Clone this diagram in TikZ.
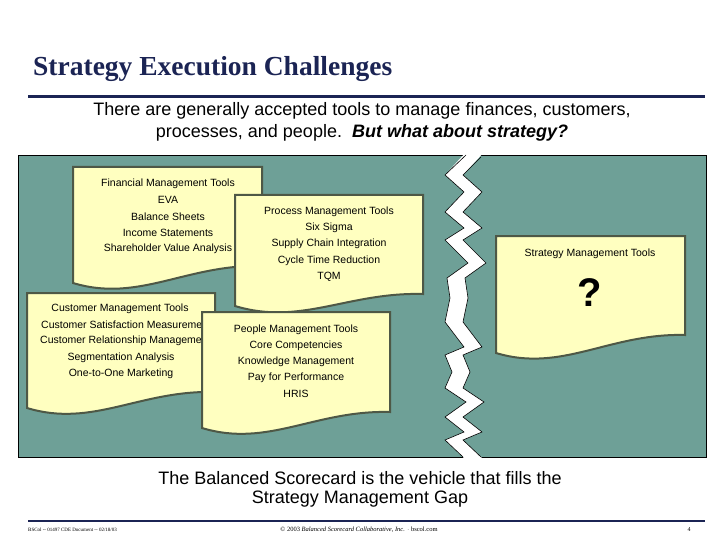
\documentclass[tikz,border=0pt]{standalone}
\usepackage{fontspec}
\setmainfont{Liberation Sans}
\newfontfamily\titlefont{Liberation Serif}
\definecolor{navy}{RGB}{27,36,84}
\definecolor{panel}{RGB}{110,160,151}
\definecolor{paper}{RGB}{255,255,192}
\definecolor{docline}{RGB}{78,88,70}
\newcommand\docpath[5]{(#1,#2) -- (#3,#2) -- (#3,#5) .. controls ({#1+0.6*(#3-#1)},{#5-2}) and ({#1+0.35*(#3-#1)},{#4+20}) .. (#1,#4) -- cycle}
\tikzset{
  docbox/.style={fill=paper,draw=docline,line width=2pt,line join=miter},
  doctext/.style={font=\fontsize{10.5}{11}\selectfont,inner sep=0pt,anchor=center},
  big/.style={font=\fontsize{18}{20}\selectfont,inner sep=0pt,anchor=center},
  foot/.style={font=\titlefont\fontsize{6}{7}\selectfont,inner sep=0pt}
}
\begin{document}
\begin{tikzpicture}[x=1pt,y=-1pt]
\useasboundingbox (0,0) rectangle (720,540);
\fill[white] (0,0) rectangle (720,540);
% title
\node[font=\titlefont\bfseries\fontsize{27.5}{30}\selectfont,text=navy,anchor=base west,inner sep=0pt] (title) at (33,76) {Strategy Execution Challenges};
\draw[navy,line width=3pt] (28,97) -- (705,97);
\node[big] (sub1) at (362,111) {There are generally accepted tools to manage finances, customers,};
\node[big] (sub2) at (362,133) {processes, and people.\ \ \textbf{\itshape But what about strategy?}};
% panel
\draw[fill=panel,draw=black,line width=0.8pt] (18,155) rectangle (706,457);
% zigzag gap
\fill[white] (466,152) -- (445,175) -- (464,192) -- (445,212) -- (464,228) -- (445,240) -- (468,263) -- (447,278) -- (450,298) -- (445,322) -- (464,347) -- (445,355) -- (452,372) -- (445,388) -- (466,402) -- (445,417) -- (464,432) -- (445,440) -- (466,460)
 -- (484,460) -- (463,440) -- (482,432) -- (463,417) -- (484,402) -- (463,388) -- (470,372) -- (463,355) -- (482,347) -- (463,322) -- (468,298) -- (465,278) -- (486,263) -- (463,240) -- (482,228) -- (463,212) -- (482,192) -- (463,175) -- (484,152) -- cycle;
\draw[black,line width=0.6pt] (466,155) -- (445,175) -- (464,192) -- (445,212) -- (464,228) -- (445,240) -- (468,263) -- (447,278) -- (450,298) -- (445,322) -- (464,347) -- (445,355) -- (452,372) -- (445,388) -- (466,402) -- (445,417) -- (464,432) -- (445,440) -- (463,457);
\draw[black,line width=0.6pt] (481,157) -- (463,175) -- (482,192) -- (463,212) -- (482,228) -- (463,240) -- (486,263) -- (465,278) -- (468,298) -- (463,322) -- (482,347) -- (463,355) -- (470,372) -- (463,388) -- (484,402) -- (463,417) -- (482,432) -- (463,440) -- (481,457);
% documents
\draw[docbox] \docpath{73}{167}{262}{283}{266};
\node[doctext] (f0) at (168,184) {Financial Management Tools};
\node[doctext] (f1) at (168,200) {EVA};
\node[doctext] (f2) at (168,217) {Balance Sheets};
\node[doctext] (f3) at (168,233) {Income Statements};
\node[doctext] (f4) at (168,249) {Shareholder Value Analysis};
\draw[docbox] \docpath{235}{195}{423}{306}{294};
\node[doctext] (p0) at (329,212) {Process Management Tools};
\node[doctext] (p1) at (329,228) {Six Sigma};
\node[doctext] (p2) at (329,244) {Supply Chain Integration};
\node[doctext] (p3) at (329,261) {Cycle Time Reduction};
\node[doctext] (p4) at (329,277) {TQM};
\draw[docbox] \docpath{27}{293}{215}{408}{392};
\node[doctext] (c0) at (120,309) {Customer Management Tools};
\node[doctext,anchor=west] (c1) at (41,325) {Customer Satisfaction Measurement};
\node[doctext,anchor=west] (c2) at (40,341) {Customer Relationship Management};
\node[doctext] (c3) at (121,358) {Segmentation Analysis};
\node[doctext] (c4) at (121,374) {One-to-One Marketing};
\draw[docbox] \docpath{202}{312}{390}{428}{412};
\node[doctext] (h0) at (296,330) {People Management Tools};
\node[doctext] (h1) at (296,346) {Core Competencies};
\node[doctext] (h2) at (296,362) {Knowledge Management};
\node[doctext] (h3) at (296,378) {Pay for Performance};
\node[doctext] (h4) at (296,394) {HRIS};
\draw[docbox] \docpath{496}{236}{685}{353}{335};
\node[doctext] (s0) at (590,254) {Strategy Management Tools};
\node[font=\bfseries\fontsize{40}{44}\selectfont,inner sep=0pt] (q) at (590,293) {?};
% caption
\node[big] (cap1) at (360,478) {The Balanced Scorecard is the vehicle that fills the};
\node[big] (cap2) at (360,499) {Strategy Management Gap};
% footer
\draw[navy,line width=2.5pt] (28,521) -- (705,521);
\node[foot,anchor=west,font=\titlefont\fontsize{5}{6}\selectfont] (fl) at (28,530) {BSCol -- 01497 CDE Document -- 02/18/03};
\node[foot,font=\titlefont\fontsize{6.5}{7}\selectfont] (fc) at (359,530) {\textcopyright\ 2003 \textit{Balanced Scorecard Collaborative, Inc.} $\cdot$ bscol.com};
\node[foot] (fr) at (689,530) {4};
\end{tikzpicture}
\end{document}
